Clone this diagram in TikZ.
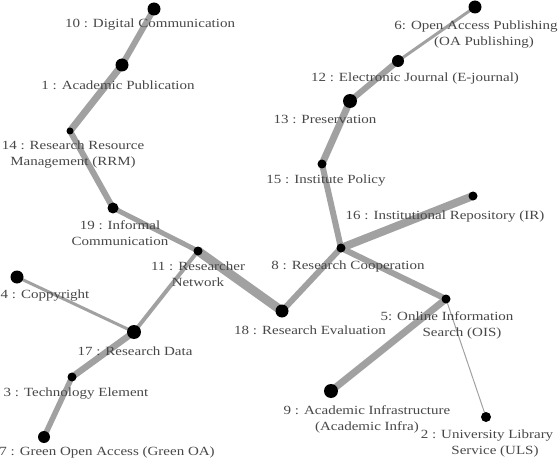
\documentclass[tikz,border=0pt]{standalone}
\usepackage{fontspec}
\setmainfont[FakeStretch=1.2]{Liberation Serif}
\pgfdeclarelayer{bg}
\pgfsetlayers{bg,main}
\begin{document}
\begin{tikzpicture}[x=1pt,y=-1pt,
  edge/.style={draw=black!37,line cap=butt},
  dot/.style={circle,fill=black,inner sep=0pt,minimum size=#1},
  lab/.style={text=black!72,font=\fontsize{12.5}{16}\selectfont,align=center,inner sep=0pt}]
\useasboundingbox (0,0) rectangle (558,460);
% dots
\node[dot=13pt] (n10) at (154,9) {};
\node[dot=13pt] (n1) at (122,65) {};
\node[dot=7pt] (n14) at (70,131) {};
\node[dot=11pt] (n19) at (113,208) {};
\node[dot=9pt] (n11) at (198,251) {};
\node[dot=13pt] (n18) at (282,311) {};
\node[dot=9pt] (n8) at (341,248) {};
\node[dot=9pt] (n15) at (322,164) {};
\node[dot=14pt] (n13) at (350,101) {};
\node[dot=12pt] (n12) at (398,61) {};
\node[dot=13pt] (n6) at (475,7) {};
\node[dot=9pt] (n16) at (473,196) {};
\node[dot=9pt] (n5) at (446,299) {};
\node[dot=14pt] (n9) at (331,391) {};
\node[dot=10pt] (n2) at (486,417) {};
\node[dot=13pt] (n4) at (17,277) {};
\node[dot=14pt] (n17) at (134,332) {};
\node[dot=9pt] (n3) at (72,377) {};
\node[dot=12pt] (n7) at (44,437) {};
% edges
\begin{pgfonlayer}{bg}
\draw[edge,line width=6pt] (n10.center) -- (n1.center);
\draw[edge,line width=7pt] (n1.center) -- (n14.center);
\draw[edge,line width=6pt] (n14.center) -- (n19.center);
\draw[edge,line width=5pt] (n19.center) -- (n11.center);
\draw[edge,line width=9pt] (n11.center) -- (n18.center);
\draw[edge,line width=4pt] (n11.center) -- (n17.center);
\draw[edge,line width=3pt] (n4.center) -- (n17.center);
\draw[edge,line width=6.5pt] (n17.center) -- (n3.center);
\draw[edge,line width=5.5pt] (n3.center) -- (n7.center);
\draw[edge,line width=6pt] (n18.center) -- (n8.center);
\draw[edge,line width=6pt] (n8.center) -- (n15.center);
\draw[edge,line width=7pt] (n15.center) -- (n13.center);
\draw[edge,line width=6pt] (n13.center) -- (n12.center);
\draw[edge,line width=3pt] (n12.center) -- (n6.center);
\draw[edge,line width=8pt] (n8.center) -- (n16.center);
\draw[edge,line width=6pt] (n8.center) -- (n5.center);
\draw[edge,line width=7pt] (n5.center) -- (n9.center);
\draw[edge,line width=1pt] (n5.center) -- (n2.center);
\end{pgfonlayer}
% labels
\node[lab] (l10) at (150,25) {10 : Digital Communication};
\node[lab] (l1) at (118,85) {1 : Academic Publication};
\node[lab] (l14) at (73,155) {14 : Research Resource\\Management (RRM)};
\node[lab] (l19) at (120,233) {19 : Informal\\Communication};
\node[lab] (l11) at (198,274) {11 : Researcher\\Network};
\node[lab] (l18) at (310,330) {18 : Research Evaluation};
\node[lab] (l8) at (348,266) {8 : Research Cooperation};
\node[lab] (l15) at (326,181) {15 : Institute Policy};
\node[lab] (l13) at (325,119) {13 : Preservation};
\node[lab] (l12) at (415,78) {12 : Electronic Journal (E-journal)};
\node[lab] (l6) at (476,35) {6: Open Access Publishing\\\hspace*{16pt}(OA Publishing)};
\node[lab] (l16) at (445,217) {16 : Institutional Repository (IR)};
\node[lab] (l5) at (447,325) {5: Online Information\\\hspace*{30pt}Search (OIS)};
\node[lab] (l9) at (367,419) {9 : Academic Infrastructure\\(Academic Infra)};
\node[lab] (l2) at (487,443) {2 : University Library\\\hspace*{16pt}Service (ULS)};
\node[lab] (l4) at (45,296) {4 : Coppyright};
\node[lab] (l17) at (135,351) {17 : Research Data};
\node[lab] (l3) at (76,394) {3 : Technology Element};
\node[lab] (l7) at (107,452) {7 : Green Open Access (Green OA)};
\end{tikzpicture}
\end{document}
